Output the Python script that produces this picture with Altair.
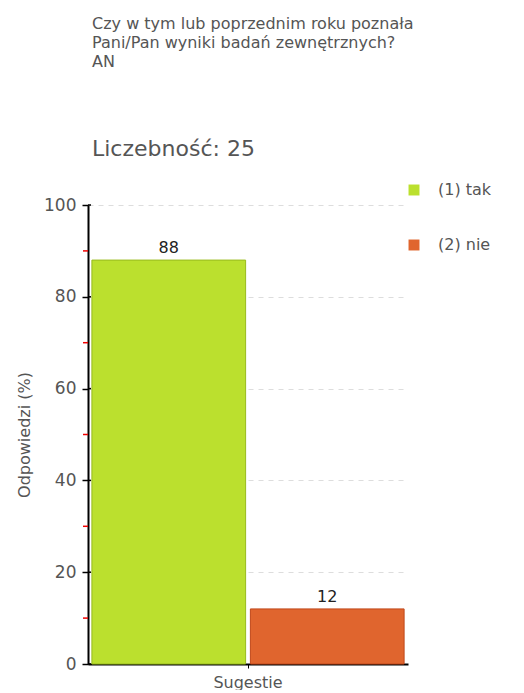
import altair as alt
import pandas as pd

# ---- data ----
category = ["Sugestie", "Sugestie"]
answers = ["(1) tak", "(2) nie"]
values = [88, 12]
colors = ["#bbe02e", "#e0652e"]
strokes = ["#98bb1c", "#c0481a"]
major_ticks = [0, 20, 40, 60, 80, 100]
minor_ticks = [10, 30, 50, 70, 90]

title_lines = ["Czy  w tym lub poprzednim roku poznała",
               "Pani/Pan wyniki  badań zewnętrznych?",
               "AN"]
subtitle = "Liczebność: 25"

FONT = "DejaVu Sans"
GREY = "#555555"

df = pd.DataFrame({"kat": category, "odp": answers, "val": values})
minor_df = pd.DataFrame({"v": minor_ticks})
major_df = pd.DataFrame({"v": major_ticks})

x_enc = alt.X("kat:N", title=None,
              scale=alt.Scale(paddingInner=0, paddingOuter=0.0125),
              axis=alt.Axis(labelAngle=0, labelFont=FONT, labelFontSize=16,
                            labelColor=GREY, domainColor="black", domainWidth=2,
                            tickColor="black", tickSize=4, labelPadding=6))
y_scale = alt.Scale(domain=[0, 100], nice=False)
xoff = alt.XOffset("odp:N", scale=alt.Scale(paddingInner=0.03, paddingOuter=0),
                   sort=answers)

bars = alt.Chart(df).mark_bar(strokeWidth=1).encode(
    x=x_enc,
    xOffset=xoff,
    y=alt.Y("val:Q", scale=y_scale, title="Odpowiedzi (%)",
            axis=alt.Axis(values=major_ticks, labelFont=FONT, labelFontSize=17,
                          labelColor=GREY, titleFont=FONT, titleFontSize=16,
                          titleColor=GREY, titleFontWeight="normal",
                          domainColor="black", domainWidth=2, tickColor="black",
                          tickSize=6, tickWidth=1.5, labelPadding=6, titlePadding=11,
                          grid=True, gridColor="#dddddd", gridDash=[5, 5])),
    color=alt.Color("odp:N", sort=answers,
                    scale=alt.Scale(domain=answers, range=colors),
                    legend=alt.Legend(title=None, orient="none", legendX=318,
                                      legendY=-23, symbolType="square",
                                      symbolSize=120, symbolStrokeWidth=0,
                                      labelFont=FONT, labelFontSize=16,
                                      labelColor=GREY, rowPadding=39,
                                      labelOffset=16)),
    stroke=alt.Stroke("odp:N", sort=answers,
                      scale=alt.Scale(domain=answers, range=strokes), legend=None),
)

labels = alt.Chart(df).mark_text(baseline="bottom", dy=-4, font=FONT,
                                 fontSize=16, color="#222222").encode(
    x=alt.X("kat:N", title=None),
    xOffset=xoff,
    y=alt.Y("val:Q", scale=y_scale),
    text=alt.Text("val:Q"),
)

minor = alt.Chart(minor_df).mark_rule(color="#ee0000", strokeWidth=1.5).encode(
    y=alt.Y("v:Q", scale=y_scale),
    x=alt.value(-5), x2=alt.value(0),
)
inner = alt.Chart(major_df).mark_rule(color="black", strokeWidth=1.5).encode(
    y=alt.Y("v:Q", scale=y_scale),
    x=alt.value(0), x2=alt.value(3),
)

chart = alt.layer(bars, labels, minor, inner).properties(
    width=320, height=459,
    padding={"left": 8, "top": 8, "right": 5, "bottom": 0},
    title=alt.TitleParams(text=title_lines, subtitle=subtitle, anchor="start",
                          frame="group", font=FONT, fontSize=16, dx=4,
                          fontWeight="normal", color=GREY, lineHeight=19,
                          subtitleFont=FONT, subtitleFontSize=22,
                          subtitleColor=GREY, subtitlePadding=69, offset=22),
).configure_view(stroke=None)

chart.save("out.html", embed_options={"renderer": "svg", "actions": False})
